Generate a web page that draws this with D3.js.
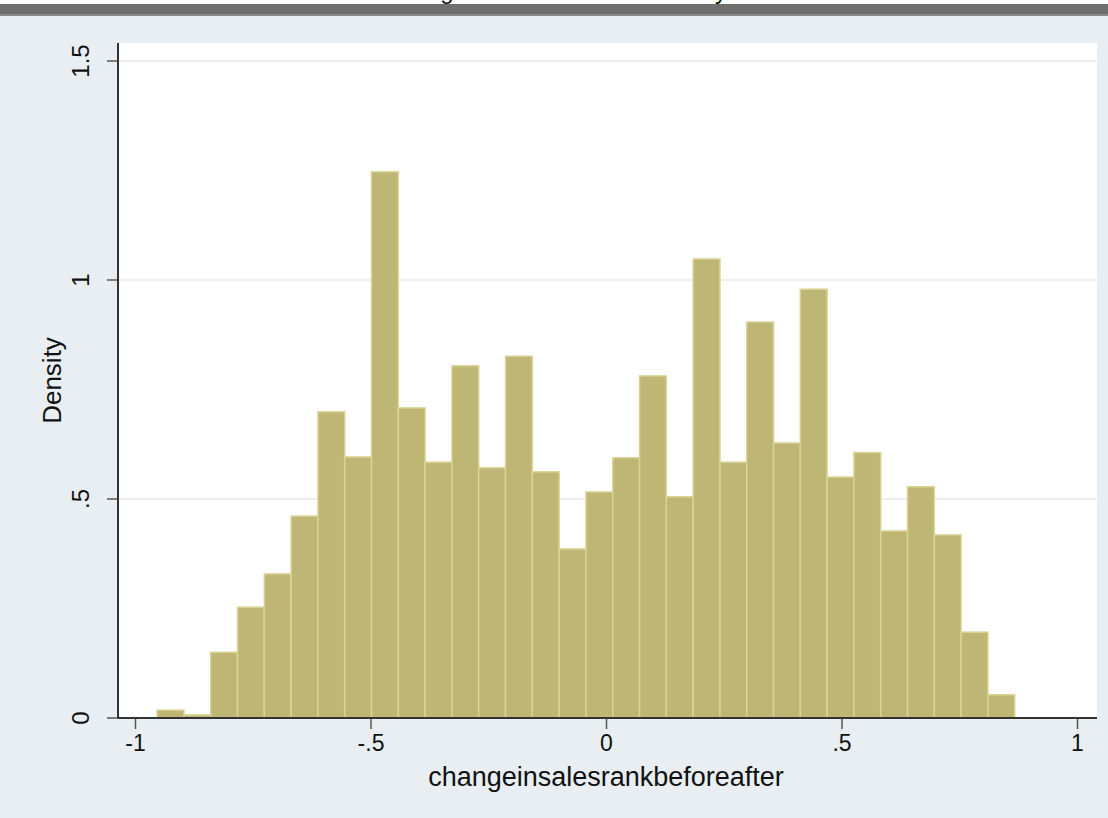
<!DOCTYPE html>
<html>
<head>
<meta charset="utf-8">
<script src="https://cdn.jsdelivr.net/npm/d3@7"></script>
<style>
  html, body { margin: 0; padding: 0; background: #e8eef2; }
  svg { display: block; font-family: "Liberation Sans", Arial, sans-serif; }
</style>
</head>
<body>
<div id="chart"></div>
<script>
// histogram of changeinsalesrankbeforeafter (density scale)
const binStart = -0.953;
const binWidth = 0.0569;
const density = [0.018, 0.007, 0.150, 0.253, 0.329, 0.461, 0.699, 0.596,
                 1.247, 0.708, 0.584, 0.804, 0.571, 0.826, 0.562, 0.386,
                 0.516, 0.594, 0.781, 0.505, 1.048, 0.584, 0.904, 0.628,
                 0.979, 0.550, 0.606, 0.427, 0.528, 0.418, 0.196, 0.053];
const xTicks = [-1, -0.5, 0, 0.5, 1];
const xTickLabels = ["-1", "-.5", "0", ".5", "1"];
const yTicks = [0, 0.5, 1, 1.5];
const yTickLabels = ["0", ".5", "1", "1.5"];
const xTitle = "changeinsalesrankbeforeafter";
const yTitle = "Density";

const W = 1108, H = 818;
const plot = {left: 118, right: 1097, top: 43, bottom: 718};

const svg = d3.select("#chart").append("svg")
    .attr("width", W)
    .attr("height", H);

// outer graph region
svg.append("rect").attr("width", W).attr("height", H).attr("fill", "#e8eef2");

// cut-off window strip at the top
svg.append("rect").attr("x", 0).attr("y", 0).attr("width", W).attr("height", 5).attr("fill", "#ffffff");
svg.append("rect").attr("x", 0).attr("y", 4).attr("width", W).attr("height", 12).attr("fill", "#6f6f6f");
svg.append("rect").attr("x", 0).attr("y", 14).attr("width", W).attr("height", 2).attr("fill", "#8a8a8a");
svg.append("text").attr("x", 447).attr("y", -1).attr("text-anchor", "middle")
    .attr("font-size", 24).attr("fill", "#111").text("g");
svg.append("text").attr("x", 721).attr("y", -1).attr("text-anchor", "middle")
    .attr("font-size", 24).attr("fill", "#111").text("y");

// plot region
svg.append("rect")
    .attr("x", plot.left).attr("y", plot.top)
    .attr("width", plot.right - plot.left).attr("height", plot.bottom - plot.top)
    .attr("fill", "#ffffff");

const x = d3.scaleLinear().domain([-1, 1]).range([135, 1077]);
const y = d3.scaleLinear().domain([0, 1.5]).range([718, 61]);

// grid lines
svg.append("g").selectAll("line")
    .data(yTicks.filter(d => d > 0))
    .enter().append("line")
    .attr("x1", plot.left).attr("x2", plot.right)
    .attr("y1", d => y(d)).attr("y2", d => y(d))
    .attr("stroke", "#e9e9ea")
    .attr("stroke-width", 1.5);

// bars
const bins = density.map((d, i) => ({x0: binStart + i * binWidth, x1: binStart + (i + 1) * binWidth, v: d}));
svg.append("g").selectAll("rect")
    .data(bins)
    .enter().append("rect")
    .attr("x", d => x(d.x0))
    .attr("width", d => x(d.x1) - x(d.x0))
    .attr("y", d => y(d.v))
    .attr("height", d => y(0) - y(d.v))
    .attr("fill", "#bdb675")
    .attr("stroke", "#dad395")
    .attr("stroke-width", 1.5);

// x axis
const xAxis = d3.axisBottom(x)
    .tickValues(xTicks)
    .tickFormat((d, i) => xTickLabels[i])
    .tickSize(11)
    .tickSizeOuter(0)
    .tickPadding(6);
const gx = svg.append("g").attr("transform", `translate(0, ${plot.bottom})`).call(xAxis);
gx.select(".domain").remove();
gx.selectAll(".tick line").attr("stroke", "#555").attr("stroke-width", 1.5);
gx.selectAll(".tick text").attr("font-size", 23).attr("fill", "#111")
    .attr("font-family", "Liberation Sans, Arial, sans-serif");
svg.append("line")
    .attr("x1", plot.left - 1).attr("x2", plot.right)
    .attr("y1", plot.bottom).attr("y2", plot.bottom)
    .attr("stroke", "#333").attr("stroke-width", 2);

// y axis
const yAxis = d3.axisLeft(y)
    .tickValues(yTicks)
    .tickFormat((d, i) => yTickLabels[i])
    .tickSize(11)
    .tickSizeOuter(0)
    .tickPadding(16);
const gy = svg.append("g").attr("transform", `translate(${plot.left}, 0)`).call(yAxis);
gy.select(".domain").remove();
gy.selectAll(".tick line").attr("stroke", "#555").attr("stroke-width", 1.5);
gy.selectAll(".tick text")
    .attr("font-size", 24).attr("fill", "#111")
    .attr("font-family", "Liberation Sans, Arial, sans-serif")
    .attr("text-anchor", "middle")
    .attr("dy", 0)
    .attr("x", -29)
    .attr("transform", d => `rotate(-90, -29, ${y(d)})`)
    .attr("y", d => y(d));
gy.selectAll(".tick").attr("transform", null);
gy.selectAll(".tick line").attr("y1", d => y(d)).attr("y2", d => y(d));
svg.append("line")
    .attr("x1", plot.left).attr("x2", plot.left)
    .attr("y1", plot.top).attr("y2", plot.bottom)
    .attr("stroke", "#333").attr("stroke-width", 2);

// axis titles
svg.append("text")
    .attr("x", (x(-1) + x(1)) / 2)
    .attr("y", 786)
    .attr("text-anchor", "middle")
    .attr("font-size", 27)
    .attr("fill", "#111")
    .text(xTitle);

svg.append("text")
    .attr("transform", `translate(61, ${(plot.top + plot.bottom) / 2}) rotate(-90)`)
    .attr("text-anchor", "middle")
    .attr("font-size", 26)
    .attr("fill", "#111")
    .text(yTitle);
</script>
</body>
</html>
